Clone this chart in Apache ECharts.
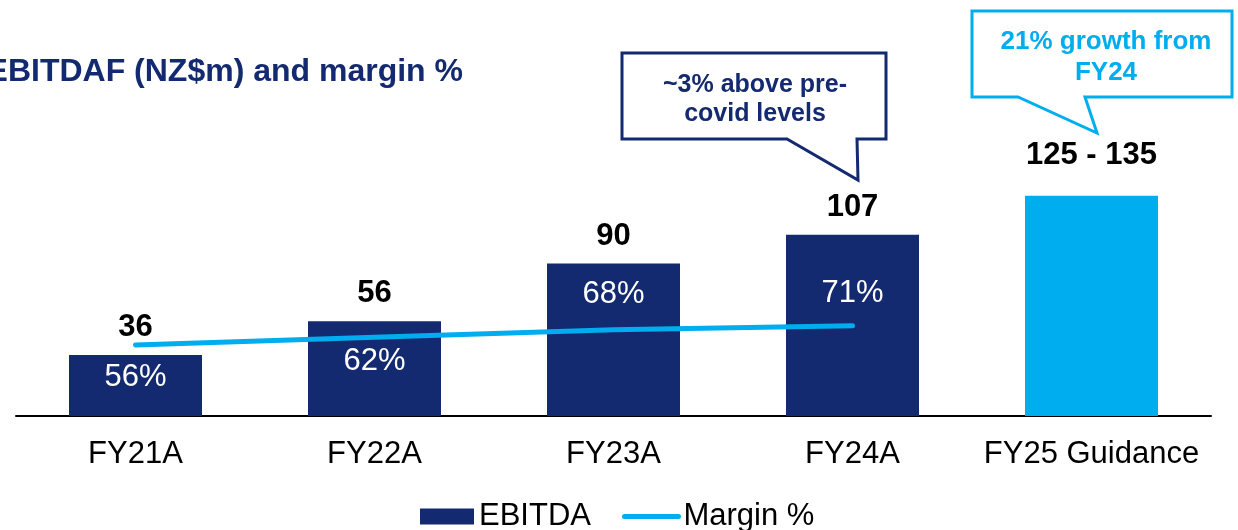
<!DOCTYPE html>
<html>
<head>
<meta charset="utf-8">
<script src="https://cdn.jsdelivr.net/npm/echarts@6/dist/echarts.min.js"></script>
<style>
  html, body { margin: 0; padding: 0; background: #fff; }
  #chart { width: 1238px; height: 530px; }
</style>
</head>
<body>
<div id="chart"></div>
<script>
// data
var categories = ['FY21A', 'FY22A', 'FY23A', 'FY24A', 'FY25 Guidance'];
var ebitda = [36, 56, 90, 107, 130];          // FY25 drawn at guidance midpoint
var ebitdaLabels = ['36', '56', '90', '107', '125 - 135'];
var margin = [56, 62, 68, 71, null];

var NAVY = '#132a70';
var BLUE = '#00adef';
var FONT = '"Liberation Sans", Arial, sans-serif';

var chart = echarts.init(document.getElementById('chart'));

var option = {
  animation: false,
  textStyle: { fontFamily: FONT },
  grid: { left: 16, right: 27, top: 162, bottom: 114 },
  legend: {
    left: 415,
    top: 496,
    itemWidth: 54,
    itemHeight: 16,
    itemGap: 31,
    textStyle: { fontSize: 31, color: '#000', fontFamily: FONT },
    data: [
      { name: 'EBITDA', icon: 'rect' },
      { name: 'Margin %', itemStyle: { opacity: 0 }, lineStyle: { width: 5, cap: 'round', color: BLUE } }
    ]
  },
  xAxis: {
    type: 'category',
    data: categories,
    axisLine: { lineStyle: { color: '#000', width: 2 } },
    axisTick: { show: false },
    axisLabel: { fontSize: 31, color: '#000', margin: 23, interval: 0, fontFamily: FONT }
  },
  yAxis: [
    { type: 'value', min: 0, max: 150, show: false, splitLine: { show: false } },
    { type: 'value', min: 0, max: 200, show: false, splitLine: { show: false } }
  ],
  graphic: [
    {
      type: 'text', x: 463, y: 72,
      style: {
        text: 'EBITDAF (NZ$m) and margin %',
        fill: NAVY, font: 'bold 32px ' + FONT,
        textAlign: 'right', textVerticalAlign: 'middle'
      }
    },
    {
      type: 'polygon',
      shape: { points: [[622, 53], [886, 53], [886, 139], [857, 139], [858, 180], [787, 139], [622, 139]] },
      style: { fill: '#fff', stroke: NAVY, lineWidth: 3 }
    },
    {
      type: 'text', x: 755, y: 100,
      style: {
        text: '~3% above pre-\ncovid levels',
        fill: NAVY, font: 'bold 25px ' + FONT, lineHeight: 29,
        textAlign: 'center', textVerticalAlign: 'middle'
      }
    },
    {
      type: 'polygon',
      shape: { points: [[972, 11], [1232, 11], [1232, 97], [1085, 97], [1097, 133], [1018, 97], [972, 97]] },
      style: { fill: '#fff', stroke: BLUE, lineWidth: 3 }
    },
    {
      type: 'text', x: 1106, y: 57,
      style: {
        text: '21% growth from\nFY24',
        fill: BLUE, font: 'bold 26px ' + FONT, lineHeight: 31,
        textAlign: 'center', textVerticalAlign: 'middle'
      }
    }
  ],
  series: [
    {
      name: 'EBITDA',
      type: 'bar',
      barWidth: 133,
      itemStyle: { color: NAVY },
      data: ebitda.map(function (v, i) {
        return {
          value: v,
          itemStyle: { color: i === 4 ? BLUE : NAVY },
          label: { distance: i === 4 ? 25 : 12 }
        };
      }),
      label: {
        show: true,
        position: 'top',
        fontSize: 31,
        fontWeight: 'bold',
        color: '#000',
        fontFamily: FONT,
        formatter: function (p) { return ebitdaLabels[p.dataIndex]; }
      }
    },
    {
      name: 'Margin %',
      type: 'line',
      yAxisIndex: 1,
      symbol: 'none',
      z: 5,
      lineStyle: { color: BLUE, width: 5, cap: 'round' },
      itemStyle: { color: BLUE },
      data: margin
    },
    {
      // margin % text sitting inside the bars
      name: 'marginLabels',
      type: 'scatter',
      yAxisIndex: 1,
      symbolSize: 0,
      z: 6,
      silent: true,
      itemStyle: { opacity: 1, color: '#fff' },
      data: margin.map(function (v, i) {
        return {
          value: v,
          label: { position: i < 2 ? 'bottom' : 'top', distance: i === 0 ? 17 : (i === 1 ? 9 : (i === 2 ? 20 : 17)) }
        };
      }),
      label: {
        show: true,
        fontSize: 31,
        color: '#fff',
        opacity: 1,
        fontFamily: FONT,
        formatter: function (p) { return p.value == null ? '' : p.value + '%'; }
      }
    }
  ]
};

chart.setOption(option);
</script>
</body>
</html>
